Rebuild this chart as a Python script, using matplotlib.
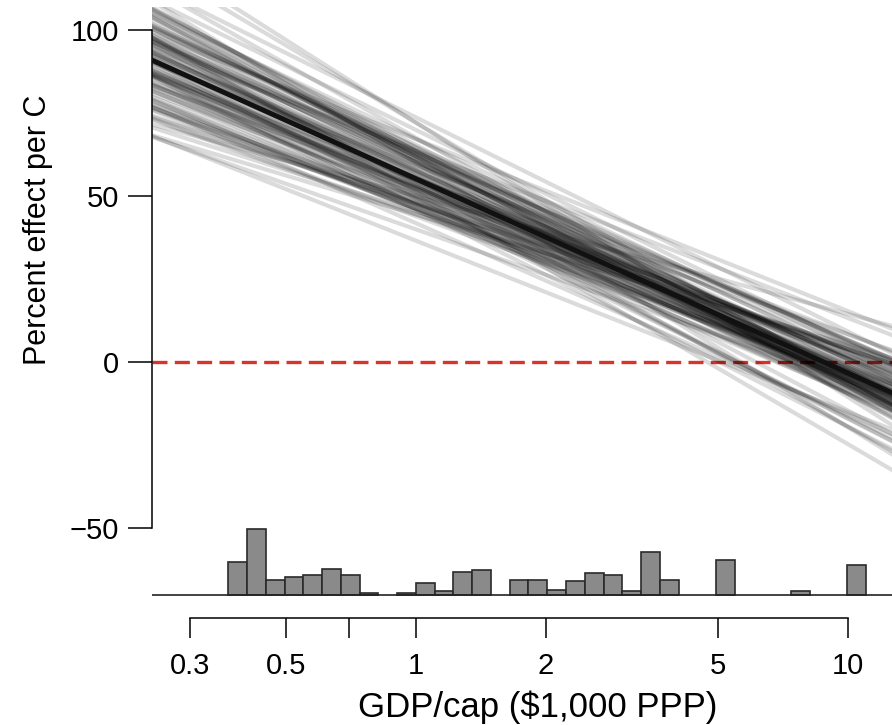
import numpy as np
import matplotlib
matplotlib.use("Agg")
import matplotlib.pyplot as plt
from matplotlib.ticker import NullLocator

plt.rcParams['font.family'] = ['Liberation Sans', 'DejaVu Sans']

# Central estimate: effect = level + slope * (ln(gdp) - ln(pivot_gdp))
pivot_gdp = 2.5
center_level = 31.9
center_slope = -25.4

# bootstrap replicates (level at pivot, slope per ln unit)
boot_levels = [
    34.8, 30.3, 26.7, 34.2, 40.7, 28.0, 32.4, 23.8, 36.6, 31.1,
    38.7, 29.0, 33.2, 21.0, 35.3, 31.9, 25.7, 39.7, 29.8, 36.1,
    27.0, 33.7, 43.6, 30.9, 24.6, 37.4, 28.8, 32.9, 18.9, 34.5,
    34.0, 29.6, 39.4, 27.5, 32.7, 41.5, 26.2, 35.5, 30.6, 22.8,
    37.9, 33.5, 28.3, 46.5, 31.4, 25.1, 35.0, 32.2, 29.3, 40.2,
    30.1, 36.8, 22.0, 33.2, 38.1, 27.7, 31.6, 42.3, 25.9, 34.2,
    28.5, 38.9, 32.4, 19.9, 35.8, 30.3, 40.0, 26.7, 33.7, 29.6,
    36.3, 24.4, 32.7, 37.6, 27.2, 48.0, 30.9, 28.8, 37.1, 23.3,
    33.5, 34.8, 25.4, 41.3, 31.1, 28.0, 34.0, 44.4, 21.8, 35.3,
    29.8, 38.4, 27.0, 31.9, 16.0, 36.6, 30.6, 39.2, 24.9, 32.9,
]
boot_slopes = [
    -25.1, -26.7, -22.6, -30.0, -24.5, -21.4, -27.9, -23.7, -25.8, -19.6,
    -29.1, -25.3, -23.2, -33.0, -24.2, -27.3, -20.5, -26.4, -22.3, -28.3,
    -24.7, -31.1, -21.9, -25.6, -23.3, -29.7, -17.0, -27.0, -25.0, -22.8,
    -28.6, -20.0, -26.2, -23.9, -30.6, -25.4, -21.7, -27.5, -18.6, -28.8,
    -23.5, -26.0, -34.6, -22.5, -26.6, -24.4, -29.3, -20.9, -28.1, -24.3,
    -19.0, -25.7, -27.6, -21.1, -32.1, -25.2, -23.6, -27.1, -22.2, -30.2,
    -24.6, -22.0, -26.3, -28.4, -15.4, -26.5, -24.1, -29.8, -23.0, -25.5,
    -20.2, -31.6, -24.8, -27.4, -22.7, -28.0, -23.8, -18.0, -26.1, -29.0,
    -21.5, -26.9, -25.1, -33.6, -22.9, -25.8, -23.4, -27.8, -19.8, -30.8,
    -24.5, -27.2, -21.0, -26.4, -22.4, -29.4, -24.2, -35.9, -20.7, -28.2,
]

# histogram of GDP/cap (bins 0.1 wide in ln(GDP), starting at ln = -1.0)
hist_start_ln = -1.0
hist_width_ln = 0.1
hist_heights = [
    10.0, 19.9, 4.5, 5.5, 6.0, 8.0, 6.0, 0.7, 0.0, 0.7,
    3.7, 1.2, 7.0, 7.5, 0.0, 4.5, 4.5, 1.5, 4.1, 6.5,
    6.0, 1.2, 13.0, 4.5, 0.0, 0.0, 10.5, 0.0, 0.0, 0.0,
    1.2, 0.0, 0.0, 9.0,
]
hist_base = -70.2

xticks = [0.3, 0.5, 0.7, 1, 2, 5, 10]
xtick_labels = ['0.3', '0.5', '', '1', '2', '5', '10']
yticks = [-50, 0, 50, 100]

fig = plt.figure(figsize=(8.92, 7.25), dpi=100)
ax = fig.add_axes([0.1704, 0.1476, 0.8296, 0.8428])
ax.set_xscale('log')
ax.set_xlim(0.245, 12.65)
ax.set_ylim(-77.1, 106.9)

# zero line sits under the bootstrap lines
ax.axhline(0, color='#d8342a', lw=2.4, ls=(0, (4.5, 2.2)), zorder=1)

xs = np.array([0.2, 14.0])
lx = np.log(xs) - np.log(pivot_gdp)
for lev, sl in zip(boot_levels, boot_slopes):
    ax.plot(xs, lev + sl * lx, color='black', lw=3.0, alpha=0.14, zorder=2,
            solid_capstyle='butt')
ax.plot(xs, center_level + center_slope * lx, color='#111111', lw=3.6, zorder=3)

# histogram at the bottom
edges = np.exp(hist_start_ln + hist_width_ln * np.arange(len(hist_heights) + 1))
for i, h in enumerate(hist_heights):
    if h <= 0:
        continue
    ax.bar(edges[i], h, width=edges[i + 1] - edges[i], bottom=hist_base,
           align='edge', color='#8a8a8a', edgecolor='#2a2a2a', lw=1.2, zorder=4)
ax.axhline(hist_base, color='#222222', lw=1.2, zorder=5)

for s in ['top', 'right']:
    ax.spines[s].set_visible(False)
ax.spines['left'].set_bounds(-50, 100)
ax.spines['bottom'].set_bounds(0.3, 10)
ax.spines['left'].set_linewidth(1.1)
ax.spines['bottom'].set_linewidth(1.1)

ax.set_xticks(xticks)
ax.set_xticklabels(xtick_labels)
ax.xaxis.set_minor_locator(NullLocator())
ax.set_yticks(yticks)
ax.set_yticklabels(['\u221250', '0', '50', '100'])
ax.tick_params(axis='x', length=14.5, width=1.1, pad=10, labelsize=21)
ax.tick_params(axis='y', length=17, width=1.1, pad=7, labelsize=21)

ax.text(0.521, -0.1457, 'GDP/cap ($1,000 PPP)', transform=ax.transAxes,
        ha='center', va='center', fontsize=25)
ax.text(-0.154, 0.635, 'Percent effect per C', transform=ax.transAxes,
        ha='center', va='center', rotation=90, fontsize=22)

fig.savefig('out.png', dpi=100)
